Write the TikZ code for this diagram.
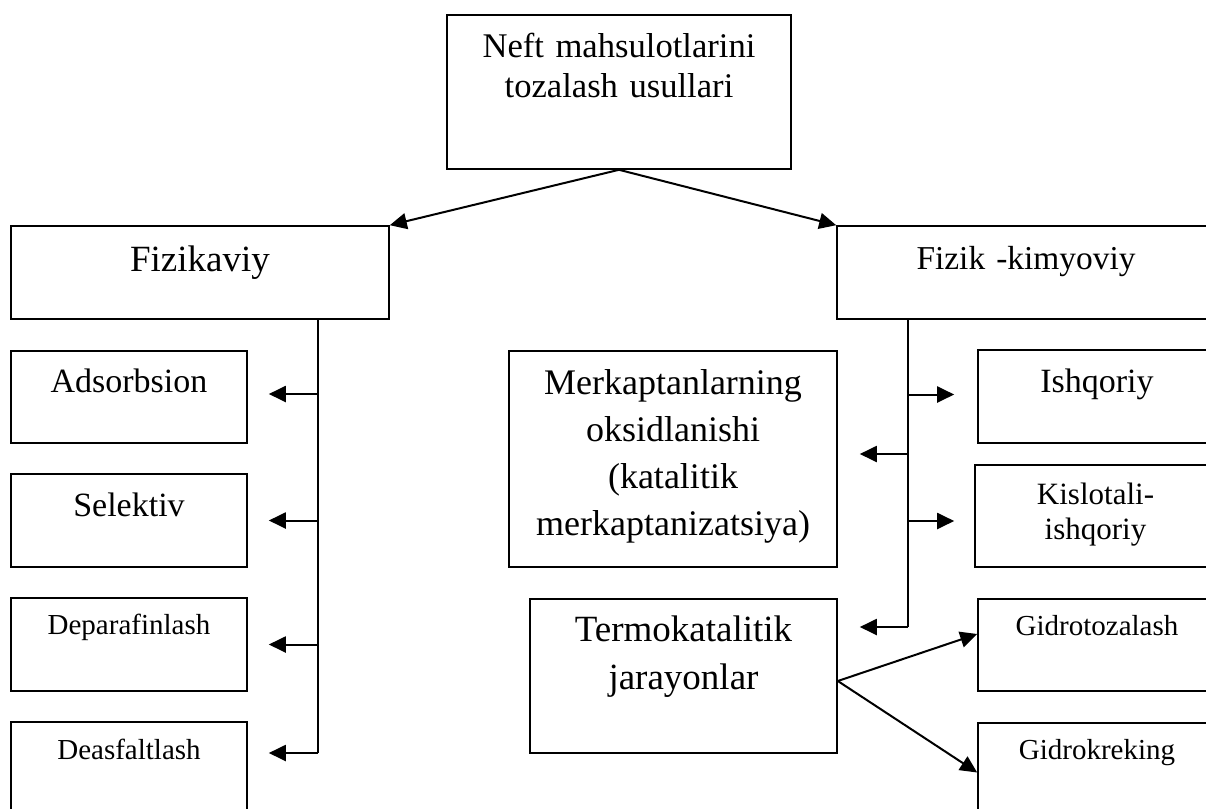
\documentclass[tikz,border=0pt]{standalone}
\usepackage{fontspec}
\setmainfont{Liberation Serif}
\usetikzlibrary{arrows.meta, positioning}
\newcommand{\fs}[2]{\fontsize{#1}{#2}\selectfont}

\tikzset{
  box/.style={draw, line width=.8pt, inner sep=0pt},
  lbl/.style={inner sep=0pt, text width=#1, align=center, anchor=base},
  lbl/.default=160pt,
  arr/.style={-{Triangle[length=8.5pt,width=8pt]}, line width=1pt},
  bus/.style={line width=1pt}
}

\begin{document}
\begin{tikzpicture}[x=.5pt, y=-.5pt]
\useasboundingbox (0,0) rectangle (1206,809);
% boxes
\node[box, minimum width=172pt, minimum height=77pt] (top) at (619,92) {};
\node[box, minimum width=189pt, minimum height=46.5pt] (fiz) at (200,272.5) {};
\node[box, minimum width=189pt, minimum height=46.5pt] (fk) at (1026,272.5) {};
\node[box, minimum width=118pt, minimum height=46pt] (ads) at (129,397) {};
\node[box, minimum width=118pt, minimum height=46.5pt] (sel) at (129,520.5) {};
\node[box, minimum width=118pt, minimum height=46.5pt] (dep) at (129,644.5) {};
\node[box, minimum width=118pt, minimum height=46.5pt] (deas) at (129,768.5) {};
\node[box, minimum width=164pt, minimum height=108pt] (merk) at (673,459) {};
\node[box, minimum width=153.5pt, minimum height=77pt] (termo) at (683.5,676) {};
\node[box, minimum width=119pt, minimum height=46.5pt] (ish) at (1097,396.5) {};
\node[box, minimum width=120.5pt, minimum height=51pt] (kis) at (1095.5,516) {};
\node[box, minimum width=119pt, minimum height=46pt] (gt) at (1097,645) {};
\node[box, minimum width=119pt, minimum height=46.5pt] (gk) at (1097,769.5) {};
% labels
\node[lbl, font=\fs{17.3}{20}] (ttop) at ([yshift=-21.5pt]top.north) {Neft mahsulotlarini\\tozalash usullari};
\node[lbl, font=\fs{18.5}{22}] (tfiz) at ([yshift=-23pt]fiz.north) {Fizikaviy};
\node[lbl, font=\fs{16.7}{20}] (tfk) at ([yshift=-22pt]fk.north) {Fizik -kimyoviy};
\node[lbl=110pt, font=\fs{17}{20}] (tads) at ([yshift=-21pt]ads.north) {Adsorbsion};
\node[lbl=110pt, font=\fs{17}{20}] (tsel) at ([yshift=-21.5pt]sel.north) {Selektiv};
\node[lbl=110pt, font=\fs{14.5}{17}] (tdep) at ([yshift=-18.5pt]dep.north) {Deparafinlash};
\node[lbl=110pt, font=\fs{14.5}{17}] (tdeas) at ([yshift=-19pt]deas.north) {Deasfaltlash};
\node[lbl, font=\fs{18}{23.5}] (tmerk) at ([yshift=-22pt]merk.north) {Merkaptanlarning\\oksidlanishi\\(katalitik\\merkaptanizatsiya)};
\node[lbl=150pt, font=\fs{18.5}{24}] (ttermo) at ([yshift=-21.5pt]termo.north) {Termokatalitik\\jarayonlar};
\node[lbl=110pt, font=\fs{17}{20}] (tish) at ([yshift=-21.5pt]ish.north) {Ishqoriy};
\node[lbl=110pt, font=\fs{15.5}{17.5}] (tkis) at ([yshift=-20pt]kis.north) {Kislotali-\\ishqoriy};
\node[lbl=110pt, font=\fs{14.5}{17}] (tgt) at ([yshift=-18.5pt]gt.north) {Gidrotozalash};
\node[lbl=110pt, font=\fs{14.5}{17}] (tgk) at ([yshift=-18.5pt]gk.north) {Gidrokreking};
% bus ends
\coordinate (lbus) at (318,753);
\coordinate (rbus) at (908,627);
% connectors
\draw[arr] (top.south) -- (fiz.north east);
\draw[arr] (top.south) -- (fk.north west);
\draw[bus] (fiz.south -| lbus) -- (lbus);
\draw[bus] (fk.south -| rbus) -- (rbus);
\draw[arr, shorten >=10.5pt] ([yshift=1.5pt]ads.east -| lbus) -- ([yshift=1.5pt]ads.east);
\draw[arr, shorten >=10.5pt] (sel.east -| lbus) -- (sel.east);
\draw[arr, shorten >=10.5pt] (dep.east -| lbus) -- (dep.east);
\draw[arr, shorten >=10.5pt] (lbus) -- (lbus -| deas.east);
\draw[arr, shorten >=11pt] ([yshift=2.5pt]merk.east -| rbus) -- ([yshift=2.5pt]merk.east);
\draw[arr, shorten >=11pt] (rbus) -- (rbus -| termo.east);
\draw[arr, shorten >=11.5pt] ([yshift=1pt]ish.west -| rbus) -- ([yshift=1pt]ish.west);
\draw[arr, shorten >=10pt] ([yshift=-2.5pt]kis.west -| rbus) -- ([yshift=-2.5pt]kis.west);
\draw[arr] ([yshift=-2.5pt]termo.east) -- ([yshift=5.5pt]gt.west);
\draw[arr] ([yshift=-2.5pt]termo.east) -- ([yshift=-1.5pt]gk.west);
\end{tikzpicture}
\end{document}
